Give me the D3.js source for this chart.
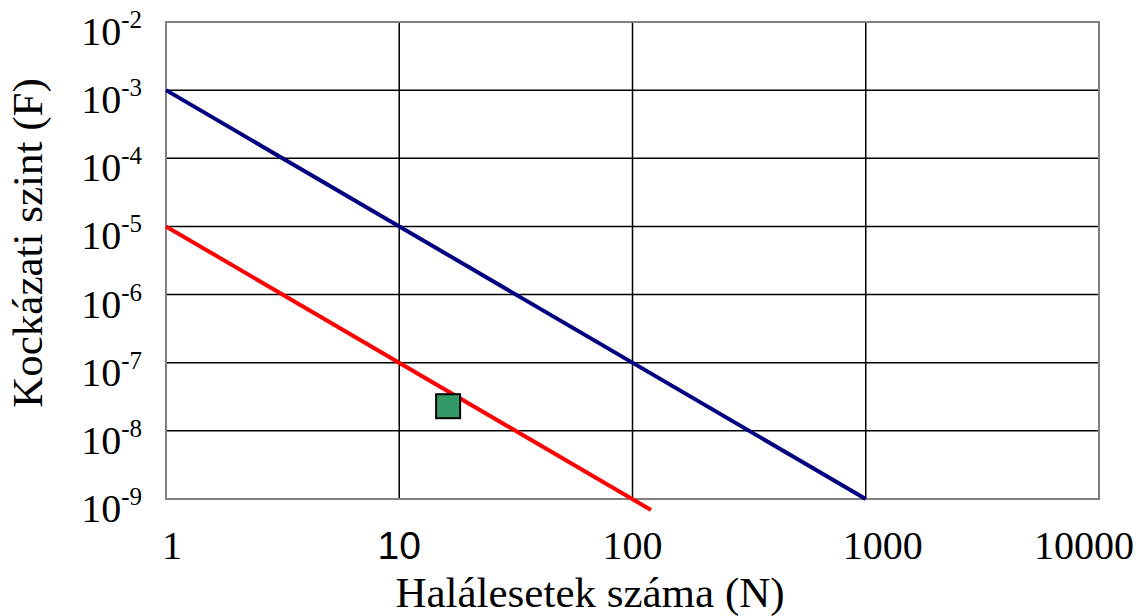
<!DOCTYPE html>
<html><head><meta charset="utf-8">
<script src="https://cdn.jsdelivr.net/npm/d3@7"></script>
<style>body{margin:0;background:#fff}</style>
</head><body>
<svg id="c" width="1144" height="616"></svg>
<script>
const xTicks = [1, 10, 100, 1000, 10000];
const xTickLabels = ["1", "10", "100", "1000", "10000"];
const yTicks = [1e-2, 1e-3, 1e-4, 1e-5, 1e-6, 1e-7, 1e-8, 1e-9];
const yTickExps = ["-2", "-3", "-4", "-5", "-6", "-7", "-8", "-9"];
const blueN = [1, 1000];
const blueF = [1e-3, 1e-9];
const redN = [1, 120];
const redF = [1e-5, 6.9e-10];
const pointN = [16.2];
const pointF = [2.3e-8];
const xTitle = "Halálesetek száma (N)";
const yTitle = "Kockázati szint (F)";

const svg = d3.select("#c");
const L = 166, R = 1099, T = 22, B = 499;
const x = d3.scaleLog().domain([1, 10000]).range([L, R]);
const y = d3.scaleLog().domain([1e-9, 1e-2]).range([B, T]);
const serif = "'Liberation Serif','Times New Roman',serif";
const sans = "'Liberation Sans',Arial,sans-serif";

// grid
svg.append("g").selectAll("line").data(yTicks.slice(1)).join("line")
  .attr("x1", L).attr("x2", R).attr("y1", d => y(d)).attr("y2", d => y(d))
  .attr("stroke", "#000").attr("stroke-width", 1.5);
svg.append("g").selectAll("line").data(xTicks.slice(1, -1)).join("line")
  .attr("y1", T).attr("y2", B).attr("x1", d => x(d)).attr("x2", d => x(d))
  .attr("stroke", "#000").attr("stroke-width", 1.5);
// border
svg.append("rect").attr("x", L).attr("y", T).attr("width", R - L).attr("height", B - T)
  .attr("fill", "none").attr("stroke", "#808080").attr("stroke-width", 2);

// lines
const line = d3.line().x(d => x(d[0])).y(d => y(d[1]));
svg.append("path").datum(blueN.map((n, i) => [n, blueF[i]])).attr("d", line)
  .attr("stroke", "#000080").attr("stroke-width", 4).attr("fill", "none");
svg.append("path").datum(redN.map((n, i) => [n, redF[i]])).attr("d", line)
  .attr("stroke", "#ff0000").attr("stroke-width", 4).attr("fill", "none");

// point
const s = 24;
svg.append("g").selectAll("rect").data(pointN.map((n, i) => [n, pointF[i]])).join("rect")
  .attr("x", d => x(d[0]) - s / 2).attr("y", d => y(d[1]) - s / 2)
  .attr("width", s).attr("height", s)
  .attr("fill", "#339966").attr("stroke", "#000").attr("stroke-width", 2);

// y tick labels
const yl = svg.append("g").selectAll("text").data(yTicks).join("text")
  .attr("x", 142).attr("y", d => y(d) + 23)
  .attr("text-anchor", "end").attr("font-family", serif).attr("font-size", 40).attr("fill", "#000");
yl.append("tspan").text("10");
yl.append("tspan").attr("font-size", 25).attr("dy", -17).text((d, i) => yTickExps[i]);

// x tick labels
const xShift = [6, 0, 0, 17, -15];
svg.append("g").selectAll("text").data(xTicks).join("text")
  .attr("x", (d, i) => x(d) + xShift[i]).attr("y", 559)
  .attr("text-anchor", "middle")
  .attr("font-family", (d, i) => i === 1 ? sans : serif)
  .attr("font-size", (d, i) => i === 1 ? 39 : 40).attr("fill", "#000")
  .text((d, i) => xTickLabels[i]);

// titles
svg.append("text").attr("x", 590).attr("y", 607).attr("text-anchor", "middle")
  .attr("font-family", serif).attr("font-size", 43).text(xTitle);
svg.append("text").attr("transform", "translate(42,243) rotate(-90)").attr("text-anchor", "middle")
  .attr("font-family", serif).attr("font-size", 43).text(yTitle);
</script>
</body></html>
